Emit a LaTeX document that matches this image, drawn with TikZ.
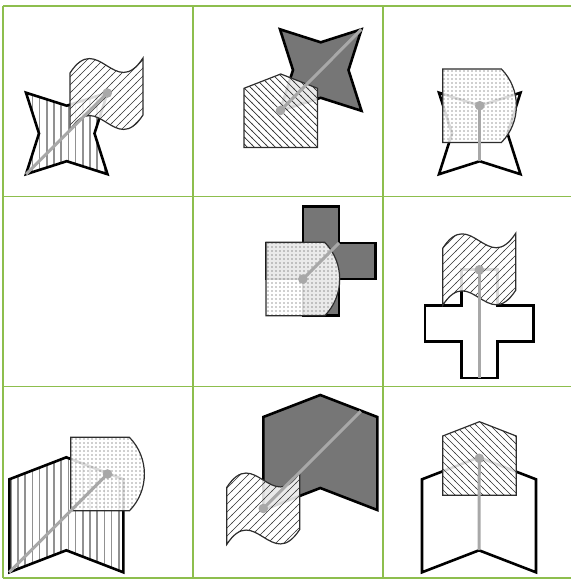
\documentclass[tikz,border=0pt]{standalone}
\usetikzlibrary{patterns}
\definecolor{gridgreen}{RGB}{141,190,77}
\definecolor{darkfill}{RGB}{118,118,118}
\definecolor{stripegray}{RGB}{145,145,145}
\definecolor{hatchcol}{RGB}{50,50,50}
\definecolor{outlinecol}{RGB}{45,45,45}
\definecolor{dotcol}{RGB}{55,55,55}
\definecolor{linegray}{RGB}{168,168,168}
\pgfdeclarepatternformonly{vstripes}{\pgfpoint{-1pt}{-1pt}}{\pgfpoint{8pt}{8pt}}{\pgfpoint{7.2pt}{7.2pt}}{%
  \pgfsetlinewidth{1.7pt}\pgfpathmoveto{\pgfpoint{3.6pt}{-1pt}}\pgfpathlineto{\pgfpoint{3.6pt}{8.2pt}}\pgfusepath{stroke}}
\pgfdeclarepatternformonly{nelines}{\pgfpoint{-1pt}{-1pt}}{\pgfpoint{9pt}{9pt}}{\pgfpoint{8pt}{8pt}}{%
  \pgfsetlinewidth{0.7pt}\pgfpathmoveto{\pgfpoint{-0.5pt}{-0.5pt}}\pgfpathlineto{\pgfpoint{8.5pt}{8.5pt}}\pgfusepath{stroke}}
\pgfdeclarepatternformonly{nwlines}{\pgfpoint{-1pt}{-1pt}}{\pgfpoint{8pt}{8pt}}{\pgfpoint{7pt}{7pt}}{%
  \pgfsetlinewidth{0.7pt}\pgfpathmoveto{\pgfpoint{-0.5pt}{7.5pt}}\pgfpathlineto{\pgfpoint{7.5pt}{-0.5pt}}\pgfusepath{stroke}}
\pgfdeclarepatternformonly{mydots}{\pgfpoint{-1pt}{-1pt}}{\pgfpoint{1pt}{1pt}}{\pgfpoint{4pt}{4pt}}{%
  \pgfpathcircle{\pgfpointorigin}{0.6pt}\pgfusepath{fill}}
\tikzset{
  pics/starp/.style={code={\path[pic actions] (0,0) -- (40.75,13) -- (81.5,0) -- (68.5,40.75) -- (81.5,81.5) -- (40.75,68.5) -- (0,81.5) -- (13,40.75) -- cycle;}},
  pics/crossp/.style={code={\path[pic actions] (36.2,0) -- (72.4,0) -- (72.4,36.2) -- (108.6,36.2) -- (108.6,72.4) -- (72.4,72.4) -- (72.4,108.6) -- (36.2,108.6) -- (36.2,72.4) -- (0,72.4) -- (0,36.2) -- (36.2,36.2) -- cycle;}},
  pics/chevp/.style={code={\path[pic actions] (0,22) -- (57,0) -- (114,22) -- (114,115) -- (57,93) -- (0,115) -- cycle;}},
  pics/pentp/.style={code={\path[pic actions] (0,14.3) -- (36.75,0) -- (73.5,14.3) -- (73.5,73.5) -- (0,73.5) -- cycle;}},
  pics/dshp/.style={code={\path[pic actions] (0,0) -- (58.7,0) .. controls (78.7,20.3) and (78.7,53.2) .. (58.7,73.5) -- (0,73.5) -- cycle;}},
  pics/flagp/.style={code={\path[pic actions] (0,15) .. controls (28,-28) and (45,43) .. (73,0) -- (73,57) .. controls (45,100) and (28,29) .. (0,72) -- cycle;}},
  backline/.style={draw=black, line width=2.6pt},
  backdark/.style={backline, fill=darkfill},
  backwhite/.style={backline, fill=white},
  backstripe/.style={backline, pattern=vstripes, pattern color=stripegray},
  veil/.style={fill=white, fill opacity=0.85},
  frontline/.style={draw=outlinecol, line width=1.2pt},
  fronthatchne/.style={frontline, pattern=nelines, pattern color=hatchcol},
  fronthatchnw/.style={frontline, pattern=nwlines, pattern color=hatchcol},
  frontdots/.style={frontline, pattern=mydots, pattern color=dotcol},
  gline/.style={draw=linegray, line width=3pt},
  gdot/.style={fill=linegray},
  grid/.style={draw=gridgreen, line width=1.5pt}
}
\begin{document}
\begin{tikzpicture}[x=1pt, y=-1pt]
\useasboundingbox (0,0) rectangle (571,579);
% grid
\draw[grid] (3,6) -- (571,6);
\draw[grid] (3,196.5) -- (571,196.5);
\draw[grid] (3,386.5) -- (571,386.5);
\draw[grid] (3,578) -- (571,578);
\draw[grid] (3,6) -- (3,578);
\draw[grid] (193,6) -- (193,578);
\draw[grid] (383,6) -- (383,578);

% cell 1
\pic[fill=white] at (26,92.7) {starp};
\pic[backstripe] at (26,92.7) {starp};
\pic[veil] at (70,58) {flagp};
\pic[fronthatchne] at (70,58) {flagp};
\coordinate (e1) at (26,174.2);
\coordinate (d1) at (107.3,93);
\draw[gline] (e1) -- (d1);
\fill[gdot] (d1) circle[radius=4.8pt];

% cell 2
\pic[backdark] at (280,29.3) {starp};
\pic[veil] at (244,74) {pentp};
\pic[fronthatchnw] at (244,74) {pentp};
\coordinate (e2) at (361.5,29.3);
\coordinate (d2) at (280.5,110.5);
\draw[gline] (e2) -- (d2);
\fill[gdot] (d2) circle[radius=4.8pt];

% cell 3
\pic[backwhite] at (439,92.7) {starp};
\pic[veil] at (442.7,69) {dshp};
\pic[frontdots] at (442.7,69) {dshp};
\coordinate (e3) at (479.75,161.2);
\coordinate (d3) at (479.75,105.7);
\draw[gline] (e3) -- (d3);
\fill[gdot] (d3) circle[radius=4.8pt];

% cell 4
\pic[backdark] at (266.7,206.7) {crossp};
\pic[veil] at (266,242.3) {dshp};
\pic[frontdots] at (266,242.3) {dshp};
\coordinate (e4) at (339.1,242.9);
\coordinate (d4) at (302.9,279.1);
\draw[gline] (e4) -- (d4);
\fill[gdot] (d4) circle[radius=4.8pt];

% cell 5
\pic[backwhite] at (425,269.3) {crossp};
\pic[veil] at (442.7,233.3) {flagp};
\pic[fronthatchne] at (442.7,233.3) {flagp};
\coordinate (e5) at (479.3,377.9);
\coordinate (d5) at (479.3,269.8);
\draw[gline] (e5) -- (d5);
\fill[gdot] (d5) circle[radius=4.8pt];

% cell 6
\pic[fill=white] at (9.3,457.3) {chevp};
\pic[backstripe] at (9.3,457.3) {chevp};
\pic[veil] at (70.7,437.3) {dshp};
\pic[frontdots] at (70.7,437.3) {dshp};
\coordinate (e6) at (9.3,572.3);
\coordinate (d6) at (107.5,474);
\draw[gline] (e6) -- (d6);
\fill[gdot] (d6) circle[radius=4.8pt];

% cell 7
\pic[backdark] at (263.3,395) {chevp};
\pic[veil] at (226.7,472.5) {flagp};
\pic[fronthatchne] at (226.7,472.5) {flagp};
\coordinate (e7) at (360.7,411.3);
\coordinate (d7) at (263.3,508.5);
\draw[gline] (e7) -- (d7);
\fill[gdot] (d7) circle[radius=4.8pt];

% cell 8
\pic[backwhite] at (422,457.3) {chevp};
\pic[veil] at (442.7,421.7) {pentp};
\pic[fronthatchnw] at (442.7,421.7) {pentp};
\coordinate (e8) at (479,550);
\coordinate (d8) at (479.3,458.3);
\draw[gline] (e8) -- (d8);
\fill[gdot] (d8) circle[radius=4.8pt];
\end{tikzpicture}
\end{document}
